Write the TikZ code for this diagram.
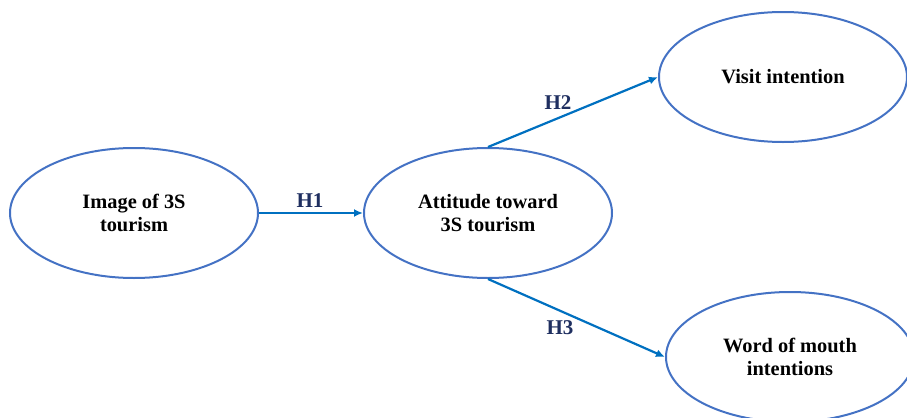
\documentclass[tikz,border=0pt]{standalone}
\usepackage{fontspec}
\setmainfont{Liberation Serif}
\usetikzlibrary{shapes.geometric,arrows.meta}
\definecolor{ringblue}{HTML}{4472C4}
\definecolor{arrowblue}{HTML}{0070C0}
\definecolor{hypnavy}{HTML}{1F2F60}
\tikzset{
	construct/.style={ellipse, draw=ringblue, line width=1pt, minimum width=124pt, minimum height=65pt, inner sep=0pt, align=center, font=\fontsize{10.2}{11.8}\selectfont\bfseries},
	path/.style={draw=arrowblue, line width=1.1pt, -{Latex[length=4.5pt,width=4pt]}},
	hyp/.style={text=hypnavy, font=\fontsize{10.5}{12}\selectfont\bfseries, inner sep=1pt}
}
\begin{document}
\begin{tikzpicture}[x=0.5pt, y=-0.5pt]
		%%%%% START %%%%%
		\useasboundingbox (0, 0) rectangle (907, 418);
		
		\node[construct] (image) at (134, 213) {Image of 3S\\tourism};
		\node[construct] (attitude) at (488, 213) {Attitude toward\\3S tourism};
		\node[construct] (visit) at (783, 77) {Visit intention};
		\node[construct] (wom) at (790, 357) {Word of mouth\\intentions};
		
		\draw[path] (image.east) -- (attitude.west);
		\draw[path] (attitude.north) -- (visit.west);
		\draw[path] (attitude.south) -- (wom.west);
		
		\node[hyp] (hone) at (310, 201) {H1};
		\node[hyp] (htwo) at (558, 103) {H2};
		\node[hyp] (hthree) at (560, 328) {H3};
		
		%%%%% END %%%%%
	\end{tikzpicture}
\end{document}
